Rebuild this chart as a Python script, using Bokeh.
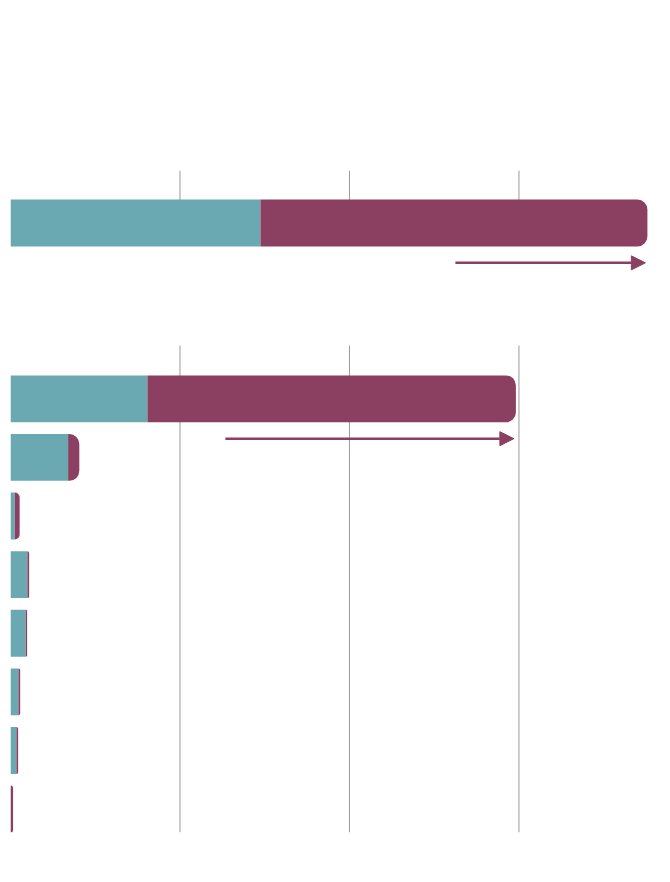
from bokeh.plotting import figure
from bokeh.models import Range1d, Arrow, NormalHead
from bokeh.embed import file_html
from bokeh.resources import INLINE

# ---- data ----
top_teal = [147.5]
top_purple = [228.3]
top_arrow_start = [262.5]
top_arrow_end = [374.6]

bottom_categories = ["1", "2", "3", "4", "5", "6", "7", "8"]
bottom_teal = [80.8, 34.0, 2.5, 10.0, 9.0, 4.7, 3.5, 0.0]
bottom_purple = [217.4, 6.6, 2.9, 1.0, 0.8, 1.0, 1.0, 1.5]
bottom_arrow_start = [126.8]
bottom_arrow_end = [297.0]

grid_ticks = [100, 200, 300]

TEAL = "#6aa8b2"
PURPLE = "#8b3f61"
GRID = "#9a9a9a"

# ---- layout positions (rows) ----
top_rows = [0]
bottom_rows = [3 + i for i in range(len(bottom_categories))]
BAR_H = 0.8
ARROW_OFF = 0.68

p = figure(width=662, height=852, output_backend="svg", toolbar_location=None,
           x_axis_location=None, y_axis_location=None,
           x_range=Range1d(0, 384.7), y_range=Range1d(10.4, -0.896),
           min_border_left=10, min_border_right=0, min_border_top=170,
           min_border_bottom=20)
p.grid.visible = False
p.outline_line_color = None
p.background_fill_color = "white"
p.border_fill_color = "white"

# grid lines (per panel)
p.segment(x0=grid_ticks, x1=grid_ticks, y0=[-0.896] * 3, y1=[top_rows[0]] * 3,
          line_color=GRID, line_width=1)
p.segment(x0=grid_ticks, x1=grid_ticks, y0=[2.09] * 3, y1=[10.4] * 3,
          line_color=GRID, line_width=1)

def stacked(rows, teal, purple):
    right_t = teal
    right_p = [t + q for t, q in zip(teal, purple)]
    p.hbar(y=rows, left=[0] * len(rows), right=right_t, height=BAR_H,
           fill_color=TEAL, line_color=None)
    p.hbar(y=rows, left=right_t, right=right_p, height=BAR_H,
           fill_color=PURPLE, line_color=None, border_radius=(0, 10, 10, 0))

stacked(top_rows, top_teal, top_purple)
stacked(bottom_rows, bottom_teal, bottom_purple)

for xs, xe, row in [(top_arrow_start[0], top_arrow_end[0], top_rows[0]),
                    (bottom_arrow_start[0], bottom_arrow_end[0], bottom_rows[0])]:
    p.add_layout(Arrow(x_start=xs, x_end=xe, y_start=row + ARROW_OFF, y_end=row + ARROW_OFF,
                       line_color=PURPLE, line_width=2.5,
                       end=NormalHead(size=14, fill_color=PURPLE, line_color=PURPLE, line_width=1)))

open("out.html", "w").write(file_html(p, INLINE))
